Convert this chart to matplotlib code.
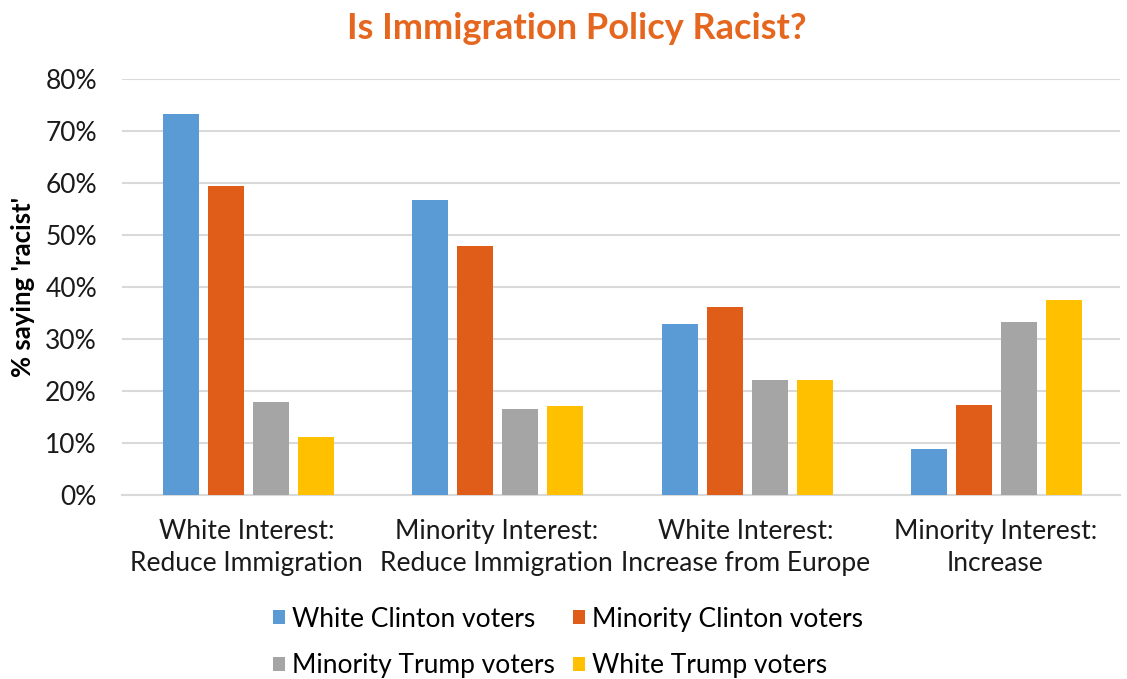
import matplotlib.pyplot as plt
import matplotlib.ticker as ticker
import numpy as np

categories = ['White Interest:\nReduce Immigration', 'Minority Interest:\nReduce Immigration',
              'White Interest:\nIncrease from Europe', 'Minority Interest:\nIncrease']
series_names = ['White Clinton voters', 'Minority Clinton voters',
                'Minority Trump voters', 'White Trump voters']
white_clinton = [73.3, 56.7, 32.9, 8.9]
minority_clinton = [59.5, 47.8, 36.1, 17.4]
minority_trump = [17.9, 16.6, 22.2, 33.3]
white_trump = [11.1, 17.2, 22.1, 37.5]
colors = ['#5B9BD5', '#E05C19', '#A5A5A5', '#FFC000']

plt.rcParams['font.family'] = ['Lato', 'DejaVu Sans']

fig = plt.figure(figsize=(11.27, 6.79), dpi=100)
ax = fig.add_axes([122 / 1127, 1 - 495 / 679, (1120 - 122) / 1127, (495 - 79) / 679])

x = np.arange(len(categories))
width = 0.144
step = 0.18
bars = []
for i, (vals, name) in enumerate(zip([white_clinton, minority_clinton, minority_trump, white_trump], series_names)):
    b = ax.bar(x + (i - 1.5) * step + 0.006, vals, width, color=colors[i], label=name, zorder=3)
    bars.append(b)

ax.set_xlim(-0.5, 3.5)
ax.set_ylim(0, 80)
ax.yaxis.set_major_locator(ticker.MultipleLocator(10))
ax.yaxis.set_major_formatter(ticker.StrMethodFormatter('{x:.0f}%'))
ax.grid(axis='y', color='#D9D9D9', linewidth=1.5, zorder=0)
for s in ['top', 'right', 'left']:
    ax.spines[s].set_visible(False)
ax.spines['bottom'].set_color('#D9D9D9')
ax.spines['bottom'].set_linewidth(1.5)
ax.tick_params(axis='both', length=0, labelsize=19, colors='#1a1a1a')
ax.tick_params(axis='y', pad=18)
ax.tick_params(axis='x', pad=17)
ax.set_xticks(x)
ax.set_xticklabels(categories, linespacing=1.35)

ax.set_ylabel("% saying 'racist'", fontsize=18.5, fontweight='bold')
ax.yaxis.set_label_coords(-0.087, 0.5)

fig.suptitle('Is Immigration Policy Racist?', x=0.512, y=0.982, fontsize=26,
             fontweight='bold', color='#E5671F')

order = [0, 2, 1, 3]
fig.legend([bars[i] for i in order], [series_names[i] for i in order], ncol=2,
           loc='center', bbox_to_anchor=(0.504, 0.054), frameon=False, fontsize=19,
           handlelength=0.45, handleheight=0.45, handletextpad=0.25, columnspacing=0.7,
           labelspacing=0.82)

plt.savefig('out.png')
plt.close()
